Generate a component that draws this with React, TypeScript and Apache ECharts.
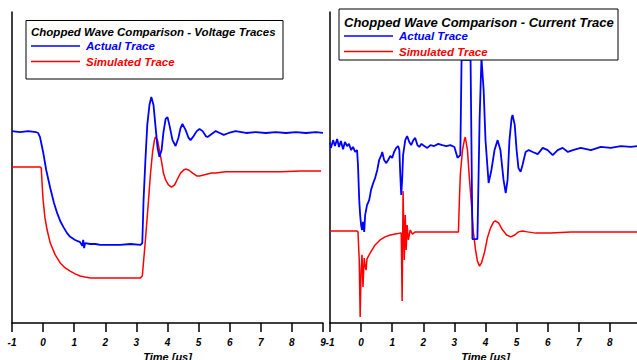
import React, { useEffect, useRef } from "react";
import * as echarts from "echarts";

// ---- Left panel: voltage traces (time in μs, value in arbitrary units) ----
const voltActualTime = [-1.0, -0.74, -0.48, -0.23, -0.16, -0.1, 0.0, 0.1, 0.23, 0.35, 0.45, 0.55, 0.65, 0.77, 0.87, 1.03, 1.19, 1.26, 1.29, 1.32, 1.35, 1.52, 1.68, 1.84, 2.16, 2.48, 2.81, 3.13, 3.19, 3.23, 3.29, 3.35, 3.42, 3.48, 3.55, 3.61, 3.68, 3.74, 3.81, 3.87, 3.94, 4.0, 4.06, 4.16, 4.26, 4.35, 4.42, 4.48, 4.58, 4.68, 4.74, 4.84, 4.94, 5.03, 5.13, 5.23, 5.29, 5.42, 5.55, 5.68, 5.81, 5.97, 6.19, 6.52, 6.84, 7.16, 7.48, 7.81, 8.13, 8.45, 8.77, 9.0];
const voltActual = [61.7, 61.4, 61.7, 61.4, 61.1, 59.8, 55.0, 49.2, 43.4, 38.6, 35.4, 32.8, 30.9, 28.9, 27.7, 26.7, 26.0, 24.8, 26.7, 24.1, 25.7, 25.4, 25.4, 25.1, 25.1, 25.1, 25.4, 25.1, 25.7, 39.5, 52.4, 63.7, 70.1, 72.7, 70.1, 63.7, 56.3, 53.4, 55.6, 61.4, 65.6, 66.2, 63.7, 58.8, 56.9, 59.5, 62.7, 64.0, 62.1, 59.5, 58.8, 60.1, 61.7, 62.4, 61.7, 60.1, 59.8, 60.8, 61.7, 61.1, 60.5, 61.1, 61.7, 61.1, 61.4, 61.1, 61.4, 61.1, 61.4, 61.1, 61.4, 61.1];

const voltSimTime = [-1.0, -0.58, -0.26, -0.1, -0.06, -0.03, 0.0, 0.06, 0.13, 0.23, 0.39, 0.55, 0.71, 0.87, 1.03, 1.19, 1.35, 1.52, 1.84, 2.16, 2.48, 2.81, 3.13, 3.19, 3.29, 3.39, 3.45, 3.52, 3.58, 3.61, 3.68, 3.74, 3.81, 3.87, 3.94, 4.03, 4.13, 4.23, 4.32, 4.42, 4.52, 4.58, 4.68, 4.81, 4.94, 5.03, 5.16, 5.29, 5.42, 5.55, 5.87, 6.35, 7.0, 7.65, 8.29, 8.94];
const voltSim = [50.2, 50.2, 50.2, 50.2, 49.8, 44.4, 39.5, 33.8, 29.9, 25.7, 21.9, 19.3, 17.7, 16.7, 15.8, 15.1, 14.8, 14.5, 14.5, 14.5, 14.5, 14.5, 14.5, 15.1, 26.7, 39.5, 47.6, 55.0, 58.8, 59.8, 58.8, 55.6, 51.8, 48.2, 46.0, 44.4, 43.7, 44.4, 46.3, 48.2, 49.2, 49.5, 49.2, 48.2, 47.3, 47.3, 47.6, 47.9, 48.2, 48.2, 48.6, 48.6, 48.6, 48.6, 48.9, 48.9];

// ---- Right panel: current traces ----
const currActualTime = [-1.0, -0.97, -0.9, -0.84, -0.77, -0.71, -0.65, -0.58, -0.52, -0.45, -0.39, -0.32, -0.26, -0.19, -0.13, -0.1, -0.06, -0.03, 0.0, 0.03, 0.06, 0.1, 0.13, 0.19, 0.26, 0.32, 0.39, 0.45, 0.52, 0.58, 0.65, 0.68, 0.74, 0.81, 0.87, 0.94, 1.0, 1.06, 1.13, 1.19, 1.23, 1.26, 1.29, 1.32, 1.35, 1.42, 1.48, 1.55, 1.61, 1.68, 1.74, 1.81, 1.87, 1.94, 2.03, 2.13, 2.23, 2.35, 2.48, 2.61, 2.74, 2.87, 3.0, 3.1, 3.19, 3.23, 3.52, 3.58, 3.74, 3.81, 3.87, 3.94, 4.0, 4.1, 4.19, 4.29, 4.39, 4.48, 4.58, 4.65, 4.71, 4.77, 4.84, 4.87, 4.94, 5.0, 5.06, 5.13, 5.19, 5.29, 5.39, 5.52, 5.68, 5.84, 6.0, 6.16, 6.32, 6.48, 6.65, 6.81, 7.06, 7.39, 7.71, 8.03, 8.35, 8.68, 8.9];
const currActual = [57.9, 56.3, 58.8, 56.9, 59.2, 56.6, 58.5, 55.9, 58.2, 56.9, 57.6, 55.6, 56.6, 55.0, 55.6, 50.8, 39.5, 34.7, 31.5, 29.9, 32.5, 29.3, 34.7, 37.9, 39.5, 42.8, 45.0, 46.6, 49.2, 52.4, 54.0, 55.0, 52.4, 51.4, 52.4, 53.7, 53.1, 55.0, 56.3, 56.9, 55.6, 47.6, 41.2, 46.0, 54.0, 58.8, 60.1, 58.2, 57.2, 58.8, 59.5, 57.2, 56.6, 57.6, 56.9, 56.3, 57.2, 56.9, 57.6, 57.2, 56.9, 57.2, 56.6, 53.1, 54.0, 84.6, 84.6, 27.0, 27.0, 65.3, 85.2, 74.9, 58.8, 45.0, 49.2, 55.6, 58.8, 55.6, 46.0, 41.8, 46.0, 58.8, 65.9, 66.9, 63.7, 55.6, 49.8, 48.6, 50.8, 55.0, 55.6, 55.0, 54.3, 56.3, 55.6, 54.0, 55.6, 56.3, 55.0, 55.6, 56.3, 55.6, 56.6, 56.3, 56.9, 56.6, 56.9];

const currSimTime = [-1.0, -0.68, -0.35, -0.13, -0.1, -0.06, -0.03, 0.0, 0.03, 0.06, 0.1, 0.13, 0.16, 0.19, 0.29, 0.45, 0.61, 0.77, 0.94, 1.1, 1.26, 1.29, 1.32, 1.35, 1.39, 1.42, 1.45, 1.48, 1.52, 1.58, 1.65, 1.74, 1.9, 2.23, 2.55, 2.87, 3.13, 3.16, 3.19, 3.26, 3.32, 3.35, 3.42, 3.48, 3.55, 3.61, 3.68, 3.74, 3.81, 3.87, 3.97, 4.06, 4.16, 4.26, 4.32, 4.42, 4.55, 4.68, 4.81, 4.94, 5.06, 5.19, 5.35, 5.61, 6.1, 6.74, 7.39, 8.03, 8.9];
const currSim = [29.6, 29.6, 29.6, 29.6, 29.3, 20.3, 1.9, 17.0, 21.9, 11.6, 20.9, 18.3, 17.0, 20.6, 22.5, 25.1, 26.7, 27.7, 28.3, 28.6, 28.9, 28.9, 7.1, 42.4, 20.3, 34.7, 23.5, 31.5, 26.7, 29.9, 28.6, 29.3, 29.3, 29.3, 29.3, 29.3, 29.3, 39.5, 47.6, 55.6, 58.8, 59.8, 55.6, 46.9, 37.9, 29.3, 23.5, 19.9, 18.3, 19.3, 22.8, 27.3, 30.5, 32.5, 32.8, 32.2, 29.9, 28.3, 27.7, 28.3, 29.3, 29.6, 29.3, 28.9, 28.9, 29.3, 29.3, 29.3, 29.3];

const seriesNames = ["Actual Trace", "Simulated Trace"];
const panelTitles = [
  "Chopped Wave Comparison - Voltage Traces",
  "Chopped Wave Comparison - Current Trace",
];
const xAxisName = "Time [μs]";

const BLUE = "#0000ff";
const RED = "#ff0000";
const FONT = '"Liberation Sans", Arial, sans-serif';

const zip = (xs: number[], ys: number[]) => xs.map((x, i) => [x, ys[i]]);

function legendBox(
  x: number,
  y: number,
  w: number,
  h: number,
  title: string,
  titleSize: number,
  titleY: number,
  row1Y: number,
  row2Y: number,
  lineX1: number,
  lineX2: number,
  textX: number
) {
  const txt = (t: string, tx: number, ty: number, size: number, color: string) => ({
    type: "text",
    x: tx,
    y: ty,
    z: 101,
    style: {
      text: t,
      fill: color,
      fontFamily: FONT,
      fontStyle: "italic",
      fontWeight: "bold",
      fontSize: size,
      align: "left",
      verticalAlign: "middle",
      textAlign: "left",
      textVerticalAlign: "middle",
    },
  });
  return [
    {
      type: "rect",
      z: 100,
      shape: { x, y, width: w, height: h },
      style: { fill: "#fff", stroke: "#000", lineWidth: 1 },
    },
    txt(title, lineX1, titleY, titleSize, "#000"),
    {
      type: "line",
      z: 101,
      shape: { x1: lineX1, y1: row1Y, x2: lineX2, y2: row1Y },
      style: { stroke: BLUE, lineWidth: 1.5 },
    },
    txt(seriesNames[0], textX, row1Y, 11.5, BLUE),
    {
      type: "line",
      z: 101,
      shape: { x1: lineX1, y1: row2Y, x2: lineX2, y2: row2Y },
      style: { stroke: RED, lineWidth: 1.5 },
    },
    txt(seriesNames[1], textX, row2Y, 11.5, RED),
  ];
}

export default function App() {
  const ref = useRef<HTMLDivElement>(null);

  useEffect(() => {
    document.body.style.margin = "0";
    if (!ref.current) return;
    const chart = echarts.init(ref.current, null, { renderer: "svg" });

    const xAxisCommon = {
      type: "value",
      min: -1,
      max: 9,
      interval: 1,
      name: xAxisName,
      nameLocation: "middle",
      nameGap: 27,
      nameTextStyle: {
        fontFamily: FONT,
        fontStyle: "italic",
        fontWeight: "bold",
        fontSize: 11,
        color: "#000",
      },
      axisLine: { show: true, onZero: false, lineStyle: { color: "#000", width: 1.5 } },
      axisTick: { show: true, inside: false, length: 9, lineStyle: { color: "#000", width: 1.5 } },
      axisLabel: {
        show: true,
        margin: 14,
        fontFamily: FONT,
        fontStyle: "italic",
        fontWeight: "bold",
        fontSize: 10,
        color: "#000",
        showMinLabel: true,
        showMaxLabel: true,
      },
      splitLine: { show: false },
    };
    const yAxisCommon = {
      type: "value",
      min: 0,
      max: 100,
      axisLine: { show: true, onZero: false, lineStyle: { color: "#000", width: 1.5 } },
      axisTick: { show: false },
      axisLabel: { show: false },
      splitLine: { show: false },
    };

    const line = (name: string, data: number[][], color: string, width: number, idx: number) => ({
      name,
      type: "line",
      xAxisIndex: idx,
      yAxisIndex: idx,
      data,
      showSymbol: false,
      symbol: "none",
      smooth: false,
      lineStyle: { color, width },
      itemStyle: { color },
      z: color === BLUE ? 3 : 2,
    });

    chart.setOption({
      animation: false,
      backgroundColor: "#fff",
      grid: [
        { left: 12, top: 12, width: 311, height: 311, containLabel: false, outerBoundsMode: "none" },
        { left: 330, top: 12, width: 311, height: 311, containLabel: false, outerBoundsMode: "none" },
      ],
      xAxis: [
        { ...xAxisCommon, gridIndex: 0 },
        { ...xAxisCommon, gridIndex: 1 },
      ],
      yAxis: [
        { ...yAxisCommon, gridIndex: 0 },
        { ...yAxisCommon, gridIndex: 1 },
      ],
      series: [
        line(seriesNames[1], zip(voltSimTime, voltSim), RED, 1.5, 0),
        line(seriesNames[0], zip(voltActualTime, voltActual), BLUE, 1.8, 0),
        line(seriesNames[1], zip(currSimTime, currSim), RED, 1.5, 1),
        line(seriesNames[0], zip(currActualTime, currActual), BLUE, 1.8, 1),
      ],
      graphic: [
        ...legendBox(26, 20.5, 257, 58.5, panelTitles[0], 11.5, 32, 46, 61.5, 31, 80, 86),
        ...legendBox(339, 9, 279, 51, panelTitles[1], 13, 22, 36, 51.5, 344, 393, 399),
      ],
    });

    return () => chart.dispose();
  }, []);

  return <div ref={ref} style={{ width: 637, height: 360 }} />;
}
